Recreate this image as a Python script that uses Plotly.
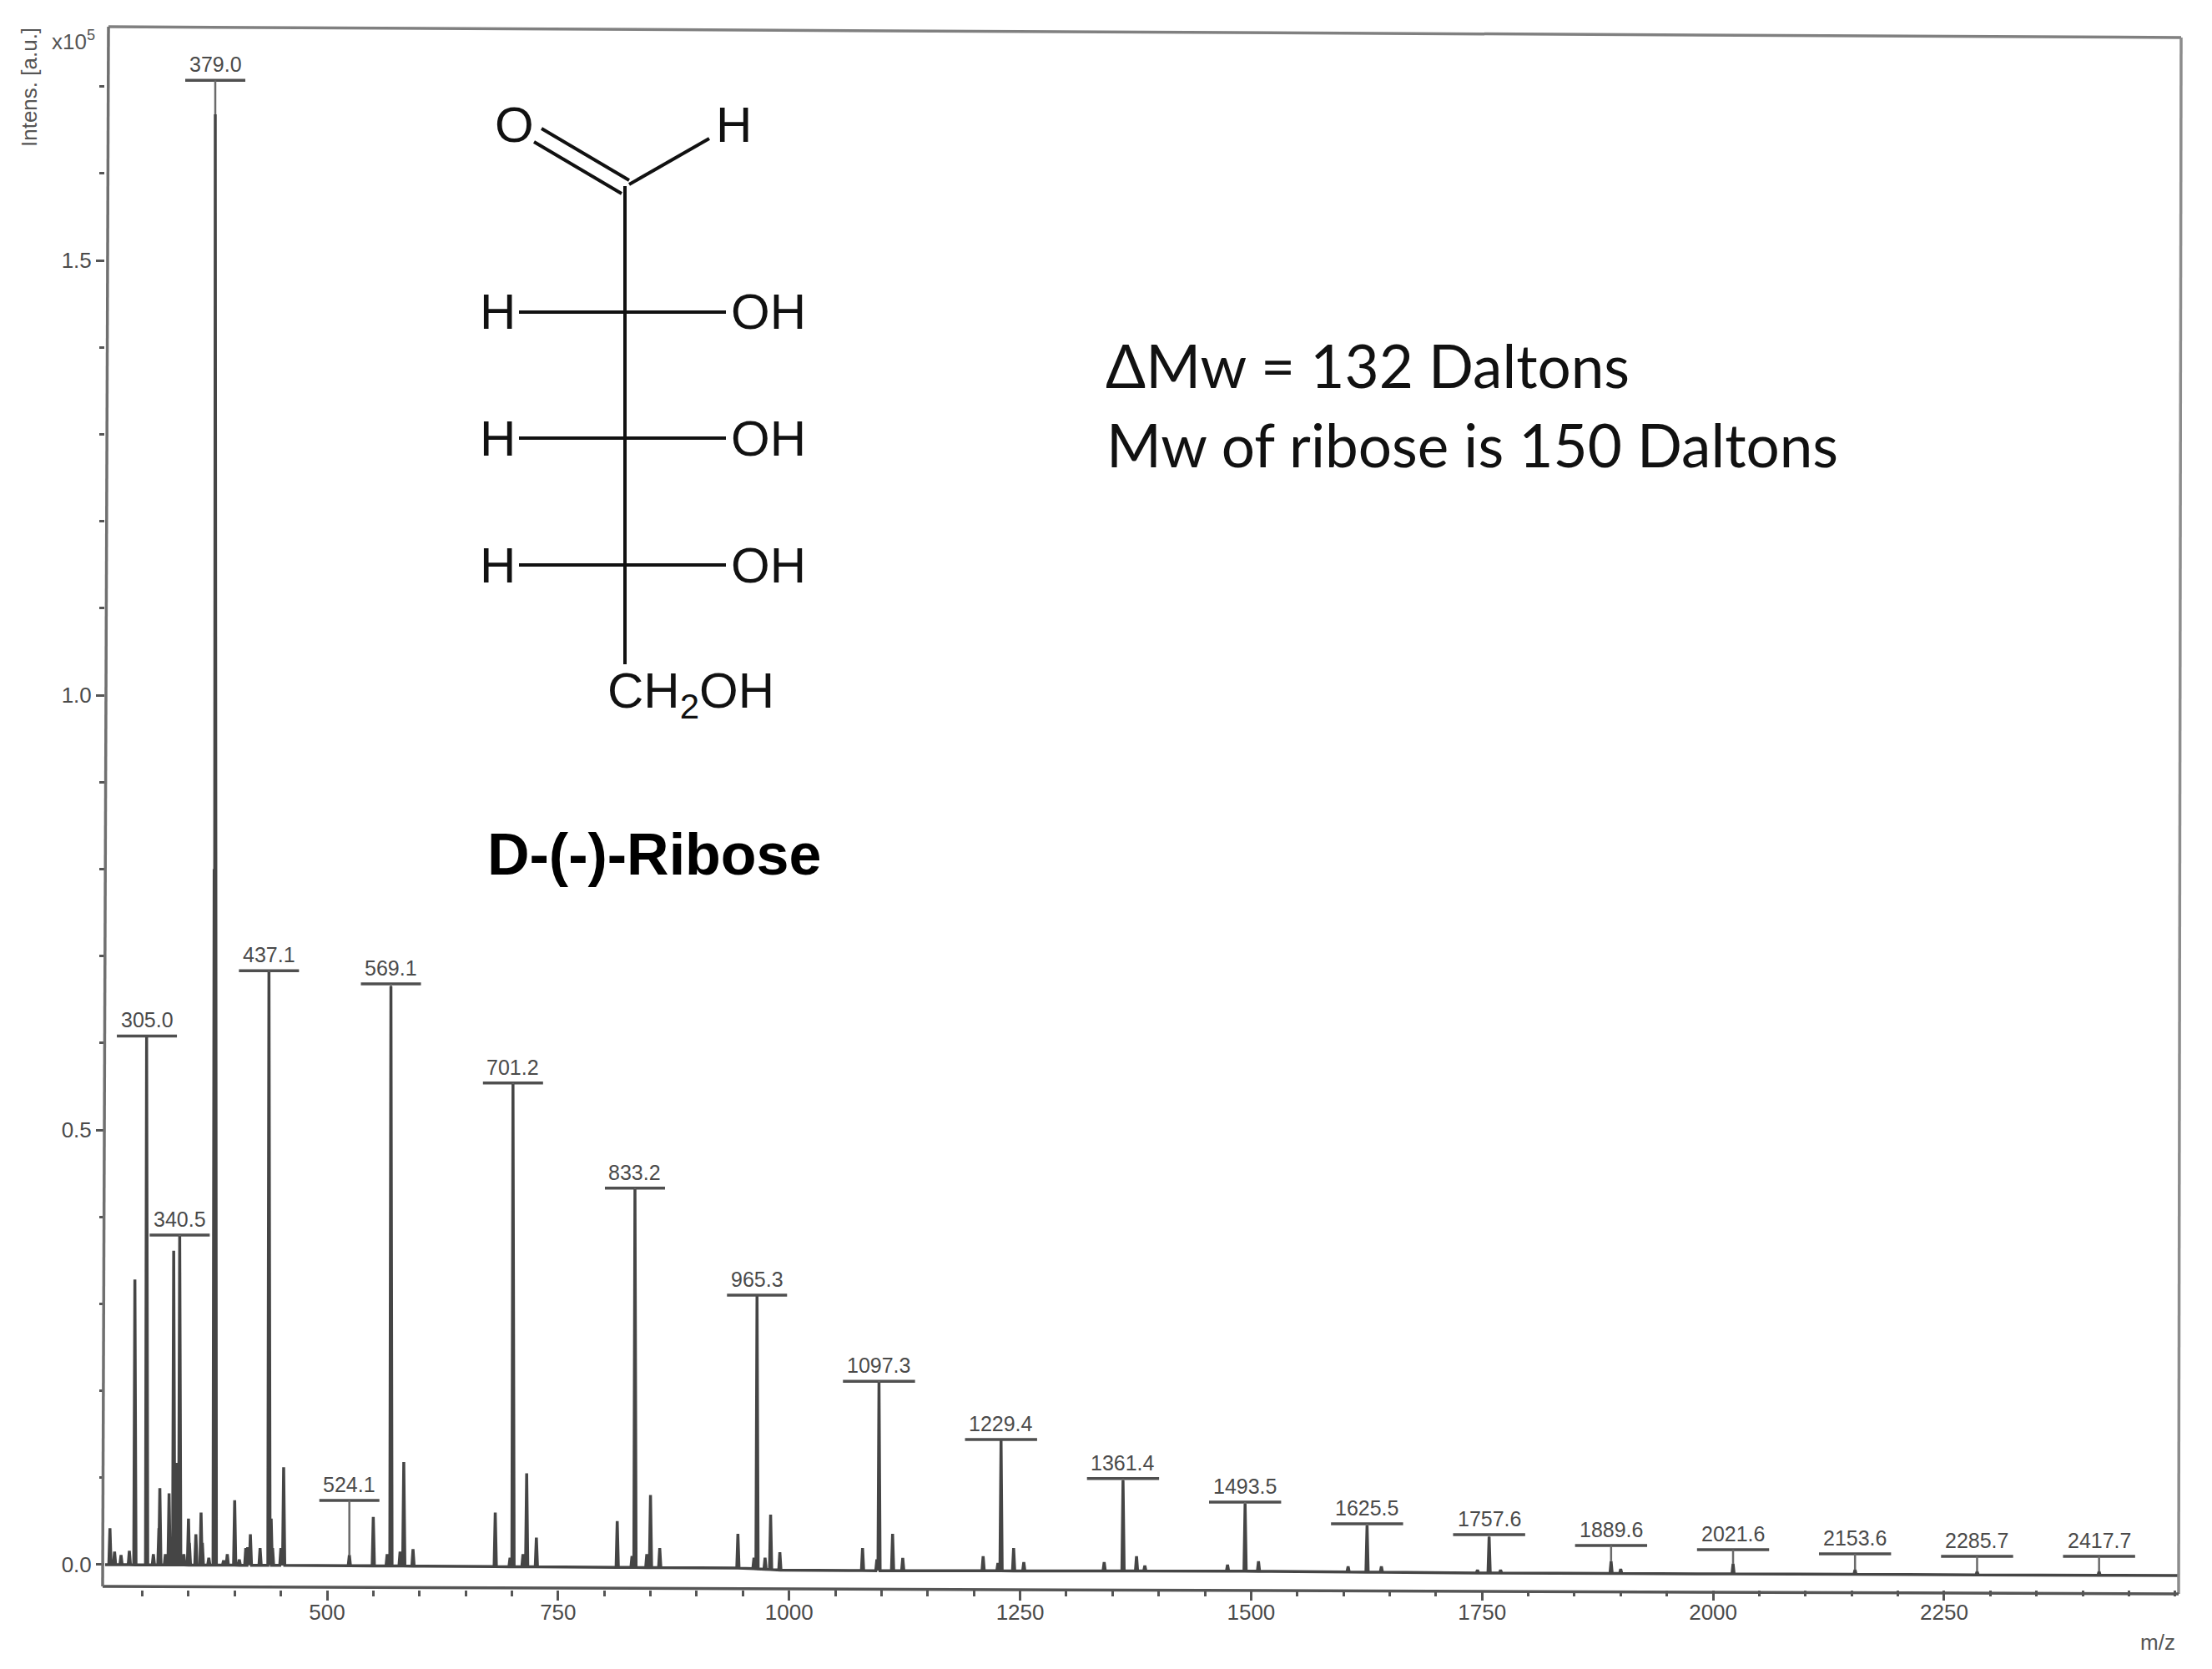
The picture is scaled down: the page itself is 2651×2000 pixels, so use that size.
import numpy as np
import plotly.graph_objects as go

# ---- data (intensity in units of 1e5) ----
peak_mz = [265, 270, 277, 286, 292, 304.7, 312, 318, 319, 325, 329, 334, 336, 337.5, 338.5, 340.5, 345, 350, 351, 358, 363.6, 365, 372,
           377.8, 379, 388, 392, 400, 405, 412, 414, 417, 427.5, 437.1, 439.5, 441, 450, 453, 524.1, 550, 565, 569.1, 579, 583, 593,
           682, 698, 701.2, 712, 716, 726.5, 814, 830, 833.2, 846, 850, 860, 944.6, 962, 965.3, 974, 980, 990,
           1079.5, 1095, 1097.3, 1112, 1123, 1210, 1226, 1229.4, 1243, 1254, 1341, 1361.4, 1376, 1385,
           1474.5, 1493.5, 1508, 1605, 1625.5, 1641, 1757.6, 1745, 1770, 1889.6, 1900, 2021.6, 2153.6, 2285.7, 2417.7]
peak_int = [0.042, 0.015, 0.011, 0.016, 0.328, 0.608, 0.012, 0.042, 0.088, 0.012, 0.082, 0.361, 0.095, 0.117, 0.09, 0.378, 0.012, 0.053, 0.025, 0.035, 0.060, 0.025, 0.008,
            0.80, 1.668, 0.005, 0.012, 0.074, 0.006, 0.019, 0.020, 0.035, 0.019, 0.682, 0.053, 0.019, 0.019, 0.112, 0.011, 0.055, 0.012, 0.665, 0.015, 0.118, 0.018,
            0.060, 0.008, 0.553, 0.012, 0.105, 0.031, 0.050, 0.010, 0.432, 0.012, 0.080, 0.019, 0.0355, 0.008, 0.31, 0.008, 0.0576, 0.0144,
            0.0192, 0.006, 0.21, 0.0355, 0.0077, 0.0096, 0.002, 0.144, 0.0192, 0.003, 0.003, 0.097, 0.0096, -0.001,
            0.000, 0.07, 0.004, -0.002, 0.045, -0.002, 0.032, -0.006, -0.006, 0.004, -0.005, 0.001, -0.006, -0.008, -0.008]

baseline_mz = [260, 500, 950, 1000, 1500, 1750, 2505]
baseline_int = [0.0, -0.001, -0.004, -0.0067, -0.0075, -0.0096, -0.0125]

label_text = ["305.0", "340.5", "379.0", "437.1", "524.1", "569.1", "701.2", "833.2", "965.3", "1097.3", "1229.4", "1361.4",
              "1493.5", "1625.5", "1757.6", "1889.6", "2021.6", "2153.6", "2285.7", "2417.7"]
label_bar = [0.608, 0.379, 1.707, 0.683, 0.074, 0.668, 0.554, 0.433, 0.31, 0.211, 0.144, 0.099,
             0.072, 0.047, 0.0345, 0.0221, 0.0173, 0.0125, 0.0096, 0.0096]

x_major = [500, 750, 1000, 1250, 1500, 1750, 2000, 2250]
y_major = [0.0, 0.5, 1.0, 1.5]

# ---- layout constants ----
W, H = 2651, 2000
L, R, T, B = 126, 2612, 38, 1905
XR = [259.8, 2504.7]
YR = [-0.0288, 1.763]
PXPERX = (R - L) / (XR[1] - XR[0])
INK = "#454545"
SANS = "Liberation Sans"


def px(x):
    return (x - L) / (R - L)


def py(y):
    return (B - y) / (B - T)


# ---- spectrum built from the peak lists ----
order = np.argsort(peak_mz)
spec_x, spec_y = [XR[0]], [float(np.interp(XR[0], baseline_mz, baseline_int))]
for i in order:
    m, v = peak_mz[i], peak_int[i]
    for xx, yy in ((m - 1.2, None), (m, v), (m + 1.2, None)):
        spec_x.append(xx)
        spec_y.append(float(np.interp(xx, baseline_mz, baseline_int)) if yy is None else yy)
spec_x.append(XR[1])
spec_y.append(float(np.interp(XR[1], baseline_mz, baseline_int)))

fig = go.Figure()
fig.add_trace(go.Scatter(x=spec_x, y=spec_y, mode="lines", line=dict(color=INK, width=3.5), hoverinfo="skip"))

# ---- label bars and connectors ----
lookup = dict(zip(peak_mz, peak_int))
bx, by, cx, cy = [], [], [], []
annotations = []
for t, b in zip(label_text, label_bar):
    m = float(t)
    half = len(t) * 7.2 / PXPERX
    bx += [m - half, m + half, None]
    by += [b, b, None]
    cx += [m, m, None]
    cy += [lookup.get(m, b), b, None]
    annotations.append(dict(x=m, y=b, xref="x", yref="y", text=t, showarrow=False, xanchor="center", yanchor="middle",
                            yshift=19, font=dict(family=SANS, size=25, color="#4a4a4a")))
fig.add_trace(go.Scatter(x=bx, y=by, mode="lines", line=dict(color="#4f4f4f", width=3.5), hoverinfo="skip"))
fig.add_trace(go.Scatter(x=cx, y=cy, mode="lines", line=dict(color="#6a6a6a", width=2.5), hoverinfo="skip"))


def note(x, y, text, size, anchor="center", family=SANS, color="#111111", bold=False, angle=0):
    annotations.append(dict(x=px(x), y=py(y), xref="paper", yref="paper", text=f"<b>{text}</b>" if bold else text,
                            showarrow=False, xanchor=anchor, yanchor="middle", textangle=angle,
                            font=dict(family=family, size=size, color=color)))


# structure labels
note(616, 149, "O", 60)
note(879, 149, "H", 60)
for yy in (374, 525, 677):
    note(596, yy, "H", 60)
    note(921, yy, "OH", 60)
note(828, 832, "CH<sub>2</sub>OH", 60)
note(784, 1024, "D-(-)-Ribose", 70, bold=True, color="#000000")
# text block
note(1323, 438, "ΔMw = 132 Daltons", 71, anchor="left", family="Lato", color="#111111")
note(1324, 532, "Mw of ribose is 150 Daltons", 71, anchor="left", family="Lato", color="#111111")
# axis captions
note(35, 105, "Intens. [a.u.]", 26, color="#555555", angle=-90)
note(88, 48, "x10<sup>5</sup>", 26, color="#555555")
note(2586, 1968, "m/z", 26, color="#555555")

# structure bonds and scanned frame
seg = [((649, 154), (754, 216)), ((640, 170), (745, 232)), ((754, 221), (850, 166)), ((749, 223), (749, 796)),
       ((622, 374), (870, 374)), ((622, 525), (870, 525)), ((622, 677), (870, 677))]
shapes = [dict(type="line", xref="paper", yref="paper", x0=px(a[0]), y0=py(a[1]), x1=px(b[0]), y1=py(b[1]),
               line=dict(color="#111111", width=4)) for a, b in seg]
frame = [(((130, 32), (2614, 45)), "#808080"), (((2614, 45), (2611, 1910)), "#8c8c8c"),
         (((123, 1901), (2611, 1910)), "#555555"), (((130, 32), (123, 1901)), "#707070")]
shapes += [dict(type="line", xref="paper", yref="paper", x0=px(a[0]), y0=py(a[1]), x1=px(b[0]), y1=py(b[1]),
                line=dict(color=c, width=3.5)) for (a, b), c in frame]

tickfont = dict(family=SANS, size=26, color="#4a4a4a")
fig.update_layout(
    width=W, height=H, showlegend=False, paper_bgcolor="white", plot_bgcolor="white",
    margin=dict(l=L, r=W - R, t=T, b=H - B, autoexpand=False),
    annotations=annotations, shapes=shapes,
    xaxis=dict(range=XR, tickmode="array", tickvals=x_major, ticktext=[str(v) for v in x_major],
               showgrid=False, zeroline=False, showline=False, ticks="outside", ticklen=12, tickwidth=2.5, tickcolor="#555555",
               tickfont=tickfont, ticklabelstandoff=-8,
               minor=dict(dtick=50, tick0=0, ticks="outside", ticklen=7, tickwidth=2.5, tickcolor="#555555", showgrid=False)),
    yaxis=dict(range=YR, tickmode="array", tickvals=y_major, ticktext=[f"{v:.1f}" for v in y_major],
               showgrid=False, zeroline=False, showline=False, ticks="outside", ticklen=10, tickwidth=2.5, tickcolor="#555555",
               tickfont=tickfont,
               minor=dict(dtick=0.1, tick0=0, ticks="outside", ticklen=6, tickwidth=2.5, tickcolor="#555555", showgrid=False)),
)
fig.write_html("out.html", config={"displayModeBar": False}, post_script="document.body.style.margin='0';")
